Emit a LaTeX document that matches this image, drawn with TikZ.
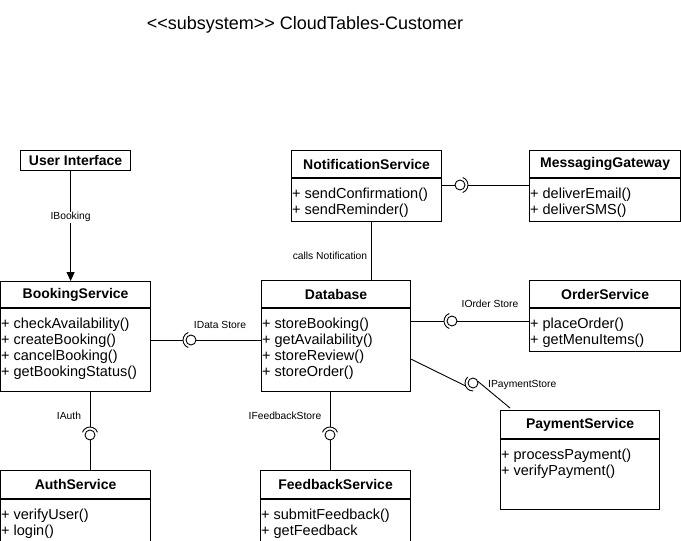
\documentclass[tikz,border=0pt]{standalone}
\usepackage{fontspec}
\setmainfont{Liberation Sans}
\usetikzlibrary{arrows.meta,calc}

% one UML class: header box, body box, method list
% #1 name, #2 x, #3 y, #4 width, #5 header height, #6 body height, #7 title, #8 methods
\newcommand\umlclass[8]{%
  \node[hdr, minimum width=#4, minimum height=#5] (#1H) at (#2,#3) {#7};
  \node[bodybox, minimum width=#4, minimum height=#6] (#1B) at (#1H.south west) {};
  \node[methods] (#1M) at ([xshift=1pt,yshift=-8pt]#1B.north west) {\rule{0pt}{12pt}#8};
}
% ball-and-socket: #1 ball name, #2 position, #3 direction of the socket (degrees)
\newcommand\ballsocket[3]{%
  \node[ball] (#1) at #2 {};
  \draw[conn] ([shift={(#3-70:8)}]#1.center) arc[start angle=#3-70, end angle=#3+70, radius=8];
  \coordinate (#1s) at ([shift={(#3:8)}]#1.center);
  \coordinate (#1o) at ([shift={(#3+180:5)}]#1.center);
}

\begin{document}
\begin{tikzpicture}[x=1pt,y=-1pt,
  hdr/.style={draw, line width=1.2pt, anchor=north west, inner sep=0pt,
    font=\bfseries\fontsize{14}{16}\selectfont},
  bodybox/.style={draw, line width=1.2pt, anchor=north west, inner sep=0pt},
  methods/.style={anchor=north west, align=left, inner sep=0pt,
    font=\fontsize{14.5}{16}\selectfont},
  conn/.style={line width=0.9pt},
  ball/.style={circle, draw, line width=0.9pt, minimum size=10pt, inner sep=0pt},
  lbl/.style={font=\fontsize{10.3}{12}\selectfont, inner sep=1pt},
  title/.style={font=\fontsize{18}{20}\selectfont}
]
\useasboundingbox (0,0) rectangle (681,541);

\node[title] (ttl) at (305,25) {<\kern0pt<subsystem>\kern0pt> CloudTables-Customer};

% user interface
\node[hdr, minimum width=110, minimum height=20] (uiH) at (20,150) {User Interface};

% classes
\umlclass{booking}{0}{281}{150}{26}{83}{BookingService}%
  {+ checkAvailability()\\+ createBooking()\\+ cancelBooking()\\+ getBookingStatus()}
\umlclass{notif}{291}{150}{150}{27}{43}{NotificationService}%
  {+ sendConfirmation()\\+ sendReminder()}
\umlclass{msg}{529}{150}{151}{27}{43}{MessagingGateway}%
  {+ deliverEmail()\\+ deliverSMS()}
\umlclass{db}{261}{280}{149}{27}{83}{Database}%
  {+ storeBooking()\\+ getAvailability()\\+ storeReview()\\+ storeOrder()}
\umlclass{order}{529}{280}{151}{27}{43}{OrderService}%
  {+ placeOrder()\\+ getMenuItems()}
\umlclass{pay}{500}{410}{159}{28}{70}{PaymentService}%
  {+ processPayment()\\+ verifyPayment()}
\umlclass{auth}{0}{470}{150}{28}{42}{AuthService}%
  {+ verifyUser()\\+ login()}
\umlclass{fb}{260}{470}{150}{28}{42}{FeedbackService}%
  {+ submitFeedback()\\+ getFeedback}

% user interface -> booking
\draw[conn, -{Triangle[length=9pt,width=8pt]}] ([xshift=-5pt]uiH.south)
  -- ([xshift=-5pt]uiH.south |- bookingH.north)
  node[lbl, pos=0.42, fill=white] (lblbooking) {IBooking};

% notification -- database
\draw[conn] ([xshift=5pt]notifB.south) -- ([xshift=5pt]notifB.south |- dbH.north);
\node[lbl] (lblcalls) at (330,256) {calls Notification};

% notification -- messaging gateway
\ballsocket{bmsg}{(460,185)}{0}
\draw[conn] (notifB.east |- bmsg) -- (bmsg.west);
\draw[conn] (bmsgs) -- (msgB.west |- bmsg);

% booking -- database
\ballsocket{bdata}{(191,340)}{180}
\draw[conn] (bookingB.east |- bdata) -- (bdatas);
\draw[conn] (bdata.east) -- (dbB.west |- bdata);
\node[lbl] (lbldata) at (220,325) {IData Store};

% database -- order
\ballsocket{border}{(452,321)}{180}
\draw[conn] (dbB.east |- border) -- (borders);
\draw[conn] (border.east) -- (orderB.west |- border);
\node[lbl] (lblorder) at (490,304) {IOrder Store};

% database -- payment
\coordinate (dbp) at ([yshift=-51pt]dbB.north east);
\coordinate (payp) at ([xshift=10pt,yshift=2pt]payH.north west);
\ballsocket{bpay}{(473,383)}{158.4}
\draw[conn] (dbp) -- (bpays);
\draw[conn] (bpayo) -- (payp);
\node[lbl, anchor=west] (lblpay) at (487,385) {IPaymentStore};

% booking -- auth
\ballsocket{bauth}{(90,435)}{270}
\draw[conn] (bookingB.south -| bauth) -- (bauths);
\draw[conn] (bauth.south) -- (authH.north -| bauth);
\node[lbl] (lblauth) at (69,416) {IAuth};

% database -- feedback
\ballsocket{bfb}{(330,435)}{270}
\draw[conn] (dbB.south -| bfb) -- (bfbs);
\draw[conn] (bfb.south) -- (fbH.north -| bfb);
\node[lbl] (lblfb) at (285,416) {IFeedbackStore};
\end{tikzpicture}
\end{document}
